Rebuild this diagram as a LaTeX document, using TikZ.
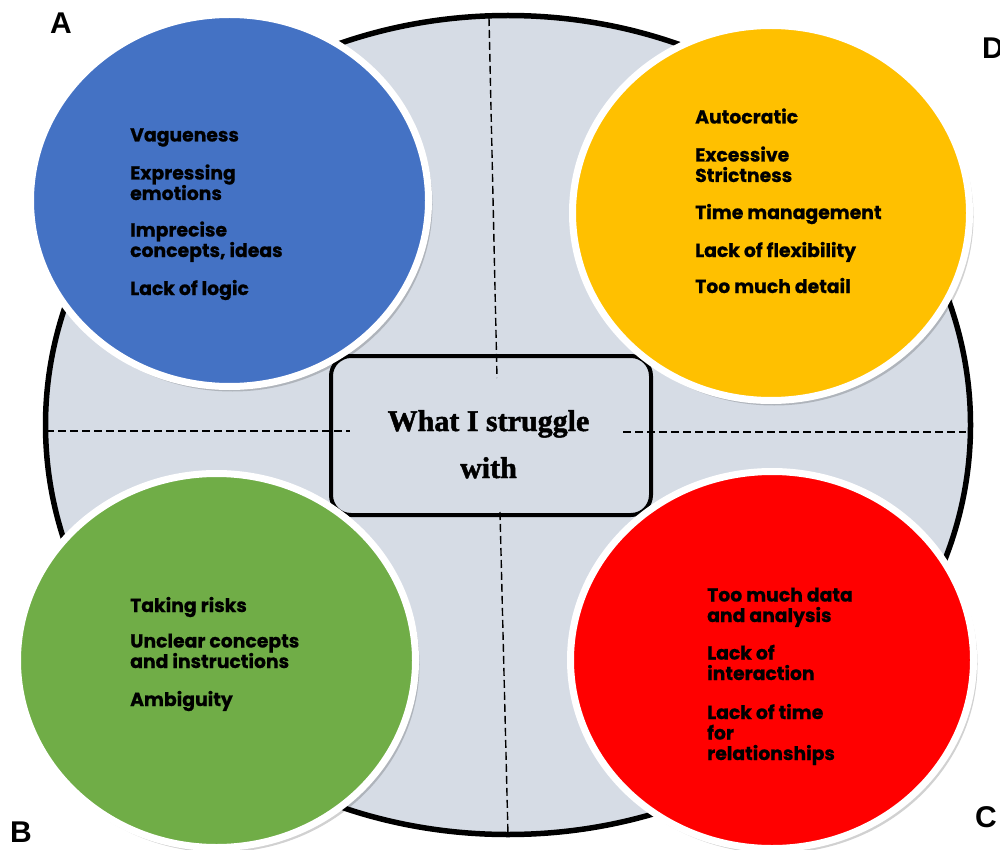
\documentclass[tikz,border=0pt]{standalone}
\usepackage{fontspec}
\setmainfont{Liberation Serif}
\newfontfamily\titlefont{Liberation Serif}[BoldFeatures={FakeBold=1.6}]
\newfontfamily\fut{Poppins}[BoldFeatures={FakeBold=0.7}]
\newfontfamily\arial{Liberation Sans}
\definecolor{bgfill}{HTML}{D6DCE5}
\definecolor{cblue}{HTML}{4472C4}
\definecolor{cyellow}{HTML}{FFC000}
\definecolor{cgreen}{HTML}{70AD47}
\definecolor{cred}{HTML}{FF0000}
\tikzset{
  quad/.style={draw=white, line width=7pt},
  shade/.style={fill=black, opacity=0.18},
  divider/.style={draw=black, line width=1.4pt, dash pattern=on 8pt off 4pt},
  item/.style={anchor=base west, align=left, inner sep=0pt,
    font=\fut\bfseries\fontsize{18.8}{20.5}\selectfont},
  title/.style={anchor=base, inner sep=0pt,
    font=\titlefont\bfseries\fontsize{30}{30}\selectfont},
  corner/.style={anchor=base west, inner sep=0pt,
    font=\arial\bfseries\fontsize{30}{30}\selectfont},
}
\begin{document}
\begin{tikzpicture}[x=1pt,y=-1pt]
\useasboundingbox (0,0) rectangle (1000,850);
% big ellipse
\draw[fill=bgfill, line width=5.5pt] (508,425) ellipse [x radius=462.5, y radius=409.5];
% center box
\node[draw, line width=4pt, fill=bgfill, rounded corners=20pt,
  minimum width=320pt, minimum height=159pt, inner sep=0pt] (center) at (491,435.5) {};
\node[title] (t1) at (488.5,431) {What I struggle};
\node[title] (t2) at (488.5,478) {with};
% dividers
\coordinate (vt1) at (489,18);
\coordinate (vt2) at (497,378);
\coordinate (vb1) at (500,512);
\coordinate (vb2) at (508,835);
\coordinate (hl1) at (46,431);
\coordinate (hl2) at (350,431);
\coordinate (hr1) at (623,432);
\coordinate (hr2) at (966,432);
\draw[divider] (vt1) -- (vt2);
\draw[divider] (vb1) -- (vb2);
\draw[divider] (hl1) -- (hl2);
\draw[divider] (hr1) -- (hr2);
% shadows
\fill[shade] (232.5,204.5) ellipse [x radius=200, y radius=187];
\fill[shade] (774,217) ellipse [x radius=199.5, y radius=188.5];
\fill[shade] (219.5,664.5) ellipse [x radius=200, y radius=188];
\fill[shade] (775,664) ellipse [x radius=202.5, y radius=189.5];
% circles
\filldraw[quad, fill=cblue] (229.5,200.5) ellipse [x radius=199, y radius=186];
\filldraw[quad, fill=cyellow] (771,213) ellipse [x radius=198.5, y radius=187.5];
\filldraw[quad, fill=cgreen] (216.5,660.5) ellipse [x radius=199, y radius=187];
\filldraw[quad, fill=cred] (772,660) ellipse [x radius=201.5, y radius=188.5];
% A texts (anchor = baseline of last line)
\node[item] (a1) at (130,141.5) {Vagueness};
\node[item] (a2) at (130,200) {Expressing\\emotions};
\node[item] (a3) at (130,257) {Imprecise\\concepts, ideas};
\node[item] (a4) at (130,295) {Lack of logic};
% D texts
\node[item] (d1) at (695,123.5) {Autocratic};
\node[item] (d2) at (695,182) {Excessive\\Strictness};
\node[item] (d3) at (695,219) {Time management};
\node[item] (d4) at (695,257) {Lack of flexibility};
\node[item] (d5) at (695,293) {Too much detail};
% B texts
\node[item] (b1) at (130,612) {Taking risks};
\node[item] (b2) at (130,668) {Unclear concepts\\and instructions};
\node[item] (b3) at (130,706) {Ambiguity};
% C texts
\node[item] (c1) at (707,622) {Too much data\\and analysis};
\node[item] (c2) at (707,680) {Lack of\\interaction};
\node[item] (c3) at (707,760) {Lack of time\\for\\relationships};
% corner labels
\node[corner] (la) at (50,34) {A};
\node[corner] (ld) at (982,59) {D};
\node[corner] (lb) at (10,842) {B};
\node[corner] (lc) at (975,827) {C};
\end{tikzpicture}
\end{document}
